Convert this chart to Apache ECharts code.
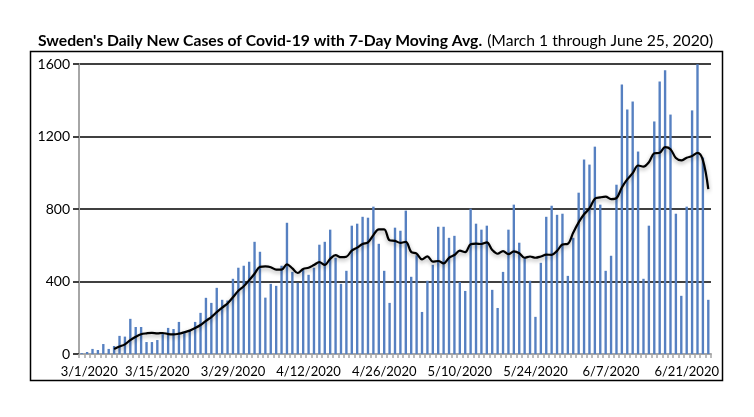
<!DOCTYPE html>
<html>
<head>
<meta charset="utf-8">
<script src="https://cdn.jsdelivr.net/npm/echarts@6/dist/echarts.min.js"></script>
<style>
html,body{margin:0;padding:0;background:#fff;}
#chart{width:754px;height:417px;}
</style>
</head>
<body>
<div id="chart"></div>
<script>
var categories = [
'3/1/2020','3/2/2020','3/3/2020','3/4/2020','3/5/2020','3/6/2020','3/7/2020','3/8/2020','3/9/2020','3/10/2020',
'3/11/2020','3/12/2020','3/13/2020','3/14/2020','3/15/2020','3/16/2020','3/17/2020','3/18/2020','3/19/2020','3/20/2020',
'3/21/2020','3/22/2020','3/23/2020','3/24/2020','3/25/2020','3/26/2020','3/27/2020','3/28/2020','3/29/2020','3/30/2020','3/31/2020',
'4/1/2020','4/2/2020','4/3/2020','4/4/2020','4/5/2020','4/6/2020','4/7/2020','4/8/2020','4/9/2020','4/10/2020',
'4/11/2020','4/12/2020','4/13/2020','4/14/2020','4/15/2020','4/16/2020','4/17/2020','4/18/2020','4/19/2020','4/20/2020',
'4/21/2020','4/22/2020','4/23/2020','4/24/2020','4/25/2020','4/26/2020','4/27/2020','4/28/2020','4/29/2020','4/30/2020',
'5/1/2020','5/2/2020','5/3/2020','5/4/2020','5/5/2020','5/6/2020','5/7/2020','5/8/2020','5/9/2020','5/10/2020',
'5/11/2020','5/12/2020','5/13/2020','5/14/2020','5/15/2020','5/16/2020','5/17/2020','5/18/2020','5/19/2020','5/20/2020',
'5/21/2020','5/22/2020','5/23/2020','5/24/2020','5/25/2020','5/26/2020','5/27/2020','5/28/2020','5/29/2020','5/30/2020','5/31/2020',
'6/1/2020','6/2/2020','6/3/2020','6/4/2020','6/5/2020','6/6/2020','6/7/2020','6/8/2020','6/9/2020','6/10/2020',
'6/11/2020','6/12/2020','6/13/2020','6/14/2020','6/15/2020','6/16/2020','6/17/2020','6/18/2020','6/19/2020','6/20/2020',
'6/21/2020','6/22/2020','6/23/2020','6/24/2020','6/25/2020'
];

var dailyCases = [
5,11,28,22,55,28,44,100,96,194,
149,149,66,66,77,111,144,138,177,125,
130,177,227,310,282,365,299,295,415,476,487,
509,619,564,311,387,376,487,724,453,393,
464,437,476,603,619,686,531,387,459,708,
719,757,752,813,608,459,282,697,680,791,
426,545,232,404,492,702,702,641,652,398,
348,802,719,686,708,354,254,453,686,824,
614,531,404,205,503,757,818,768,774,431,641,
890,1073,1045,1144,824,459,542,934,1487,1349,
1393,1117,415,708,1283,1504,1565,1321,774,321,
813,1344,1598,1084,299
];

var movingAvg = [
null,null,null,null,null,null,28,41,53,77,
95,109,114,117,114,116,110,108,112,120,
129,143,160,183,204,231,256,279,313,349,374,
407,443,481,483,479,465,465,495,472,447,
469,476,491,507,492,525,545,534,537,570,
587,607,616,656,688,688,627,624,613,619,
563,554,522,539,510,513,500,531,546,570,
562,606,609,607,616,574,553,568,551,566,
556,531,538,531,538,548,547,569,604,608,670,
726,771,803,857,864,868,854,860,919,963,
998,1040,1034,1058,1107,1110,1141,1130,1081,1068,
1083,1092,1110,1070,910
];

var yTicks = [0, 400, 800, 1200, 1600];

var chart = echarts.init(document.getElementById('chart'), null, {renderer: 'canvas'});
var baseFont = 'Lato, "Open Sans", sans-serif';

chart.setOption({
  animation: false,
  backgroundColor: '#ffffff',
  title: {
    text: "{b|Sweden's Daily New Cases of Covid-19 with 7-Day Moving Avg.} {n|(March 1 through June 25, 2020)}",
    left: 33,
    top: 27,
    textStyle: {
      rich: {
        b: {fontFamily: baseFont, fontWeight: 'bold', fontSize: 15.7, color: '#000'},
        n: {fontFamily: baseFont, fontWeight: 'normal', fontSize: 15.7, color: '#000'}
      }
    }
  },
  graphic: [{
    type: 'rect',
    shape: {x: 30.5, y: 51.5, width: 692, height: 329},
    style: {fill: 'none', stroke: '#000', lineWidth: 1.5},
    silent: true,
    z: 100
  }],
  grid: {left: 79, right: 43, top: 64, bottom: 63, containLabel: false},
  xAxis: {
    type: 'category',
    data: categories,
    boundaryGap: true,
    axisLine: {show: true, lineStyle: {color: '#a6a6a6', width: 2}},
    axisTick: {show: true, interval: 0, length: 4, lineStyle: {color: '#a6a6a6', width: 1.5}},
    axisLabel: {
      interval: 13,
      margin: 11,
      fontFamily: baseFont,
      fontSize: 13,
      color: '#000',
      formatter: function (v, i) { return i === 0 ? '{f|' + v + '}' : v; },
      rich: {f: {fontFamily: baseFont, fontSize: 13, color: '#000', padding: [0, 0, 0, 15]}}
    },
    splitLine: {show: false}
  },
  yAxis: {
    type: 'value',
    min: yTicks[0],
    max: yTicks[yTicks.length - 1],
    interval: yTicks[1] - yTicks[0],
    axisLine: {show: true, lineStyle: {color: '#a6a6a6', width: 2}},
    axisTick: {show: true, length: 6, lineStyle: {color: '#404040', width: 2}},
    axisLabel: {
      fontFamily: baseFont, fontSize: 14, color: '#000', margin: 9,
      formatter: function (v) { return String(v); }
    },
    splitLine: {show: true, lineStyle: {color: '#404040', width: 2}}
  },
  series: [
    {
      name: 'Daily New Cases',
      type: 'bar',
      data: dailyCases,
      barWidth: '44%',
      itemStyle: {color: '#5680c1'},
      z: 2
    },
    {
      name: '7-Day Moving Avg.',
      type: 'line',
      data: movingAvg,
      smooth: 0.35,
      showSymbol: false,
      connectNulls: false,
      lineStyle: {
        color: '#000',
        width: 2.2,
        shadowColor: 'rgba(0,0,0,0.35)',
        shadowBlur: 4,
        shadowOffsetY: 2
      },
      z: 3
    }
  ]
});
</script>
</body>
</html>
